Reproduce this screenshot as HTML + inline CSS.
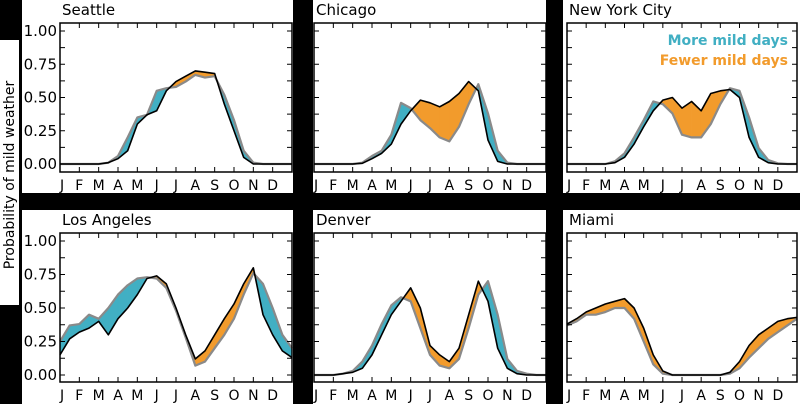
<!DOCTYPE html>
<html><head><meta charset="utf-8"><style>
html,body{margin:0;padding:0;background:#000;width:800px;height:404px;overflow:hidden}
svg{display:block}
text{font-family:"DejaVu Sans","Liberation Sans",sans-serif}
</style></head><body>
<svg id="s" width="800" height="404" xmlns="http://www.w3.org/2000/svg">
<rect width="800" height="404" fill="#000"/>
<rect x="0" y="40" width="19" height="265" fill="#fff"/>
<text transform="translate(14,175) rotate(-90)" text-anchor="middle" font-size="14" fill="#000">Probability of mild weather</text>
</svg>
<script>
const S=document.getElementById('s');const NS='http://www.w3.org/2000/svg';
function el(n,a,t){const e=document.createElementNS(NS,n);for(const k in a)e.setAttribute(k,a[k]);if(t!==undefined)e.textContent=t;S.appendChild(e);return e;}
const cols=[{wx:22,ww:271,ax:60,aw:232},{wx:313,ww:233,ax:314,aw:232},{wx:563,ww:237,ax:567,aw:230}];
const rows=[{wy:0,wh:193,at:23,ab:172,y0:164,k:133},{wy:210,wh:194,at:233,ab:382,y0:375,k:134}];
const D=[
{n:"Seattle",b:[0,0,0,0,0,.01,.04,.1,.3,.37,.4,.55,.62,.66,.7,.69,.68,.45,.25,.05,0,0,0,0,0],
 g:[0,0,0,0,0,.01,.06,.2,.35,.37,.55,.57,.58,.62,.67,.65,.66,.52,.33,.1,.01,0,0,0,0]},
{n:"Chicago",b:[0,0,0,0,0,.005,.04,.08,.15,.3,.4,.48,.46,.43,.47,.53,.62,.55,.18,.02,0,0,0,0,0],
 g:[0,0,0,0,0,.01,.06,.1,.22,.46,.42,.33,.27,.2,.17,.28,.45,.6,.38,.1,.01,0,0,0,0]},
{n:"New York City",b:[0,0,0,0,0,.01,.05,.15,.28,.4,.48,.5,.42,.47,.4,.53,.55,.56,.5,.2,.05,.01,0,0,0],
 g:[0,0,0,0,0,.02,.08,.2,.33,.47,.45,.38,.22,.2,.2,.3,.45,.57,.55,.35,.12,.03,.005,0,0]},
{n:"Los Angeles",b:[.15,.27,.32,.35,.4,.3,.42,.5,.6,.72,.74,.68,.5,.3,.12,.18,.3,.42,.53,.68,.8,.45,.3,.18,.13],
 g:[.25,.37,.38,.45,.42,.5,.6,.67,.72,.73,.72,.65,.48,.28,.07,.1,.2,.3,.42,.6,.76,.68,.5,.3,.2]},
{n:"Denver",b:[0,0,0,.01,.02,.05,.15,.3,.45,.55,.65,.5,.22,.15,.1,.2,.45,.7,.55,.2,.05,.01,0,0,0],
 g:[0,0,0,.01,.03,.1,.22,.38,.52,.58,.55,.35,.15,.07,.05,.12,.35,.6,.7,.45,.12,.03,.01,0,0]},
{n:"Miami",b:[.38,.42,.47,.5,.53,.55,.57,.5,.35,.15,.03,0,0,0,0,0,0,.02,.1,.22,.3,.35,.4,.42,.43],
 g:[.37,.4,.45,.45,.47,.5,.5,.42,.25,.08,.01,0,0,0,0,0,0,.01,.05,.13,.2,.27,.32,.37,.42]}];
const M="JFMAMJJASOND";
D.forEach((d,i)=>{
 const c=cols[i%3],r=rows[Math.floor(i/3)];
 el('rect',{x:c.wx,y:r.wy,width:c.ww,height:r.wh,fill:'#fff'});
 el('text',{x:c.ax+2,y:r.wy+15,'font-size':15,fill:'#000'},d.n);
 const X=t=>c.ax+t*c.aw/12, Y=v=>r.y0-r.k*v;
 for(let j=0;j<24;j++){
  const t0=j/2,t1=(j+1)/2,b0=d.b[j],b1=d.b[j+1],g0=d.g[j],g1=d.g[j+1];
  const d0=g0-b0,d1=g1-b1;
  const poly=(ta,tb,ba,bb,ga,gb,col)=>el('polygon',{points:`${X(ta)},${Y(ba)} ${X(tb)},${Y(bb)} ${X(tb)},${Y(gb)} ${X(ta)},${Y(ga)}`,fill:col,stroke:col,'stroke-width':0.5});
  const cl=v=>v>0?'#41afc3':'#f29b2c';
  if(d0*d1<0){const f=d0/(d0-d1),tm=t0+f*.5,bm=b0+f*(b1-b0);
   poly(t0,tm,b0,bm,g0,bm,cl(d0));poly(tm,t1,bm,b1,bm,g1,cl(d1));}
  else if(Math.abs(d0)+Math.abs(d1)>0) poly(t0,t1,b0,b1,g0,g1,cl(d0+d1));
 }
 const pl=a=>a.map((v,j)=>`${X(j/2)},${Y(v)}`).join(' ');
 el('polyline',{points:pl(d.g),fill:'none',stroke:'#8a8a8a','stroke-width':2.2,'stroke-linejoin':'round'});
 el('polyline',{points:pl(d.b),fill:'none',stroke:'#000','stroke-width':1.6,'stroke-linejoin':'round'});
 el('rect',{x:c.ax,y:r.at,width:c.aw,height:r.ab-r.at,fill:'none',stroke:'#000','stroke-width':1.5});
 for(let m=1;m<12;m++){const x=X(m);el('line',{x1:x,y1:r.at,x2:x,y2:r.at+5,stroke:'#000'});el('line',{x1:x,y1:r.ab,x2:x,y2:r.ab-5,stroke:'#000'});}
 for(let q=0;q<=8;q++){const y=Y(q*.125);el('line',{x1:c.ax,y1:y,x2:c.ax+5,y2:y,stroke:'#000'});el('line',{x1:c.ax+c.aw,y1:y,x2:c.ax+c.aw-5,y2:y,stroke:'#000'});}
 for(let m=0;m<12;m++) el('text',{x:X(m),y:r.ab+18,'font-size':14,fill:'#000','text-anchor':m==0?'start':'middle'},M[m]);
 if(i%3==0){[0,.25,.5,.75,1].forEach(v=>el('text',{x:c.ax-3,y:Y(v)+5,'font-size':15,fill:'#000','text-anchor':'end'},v.toFixed(2)));}
 if(i==2){el('text',{x:788,y:45,'font-size':14,'font-weight':'bold',fill:'#41afc3','text-anchor':'end'},'More mild days');
  el('text',{x:788,y:65,'font-size':14,'font-weight':'bold',fill:'#f29b2c','text-anchor':'end'},'Fewer mild days');}
});
</script>
</body></html>
